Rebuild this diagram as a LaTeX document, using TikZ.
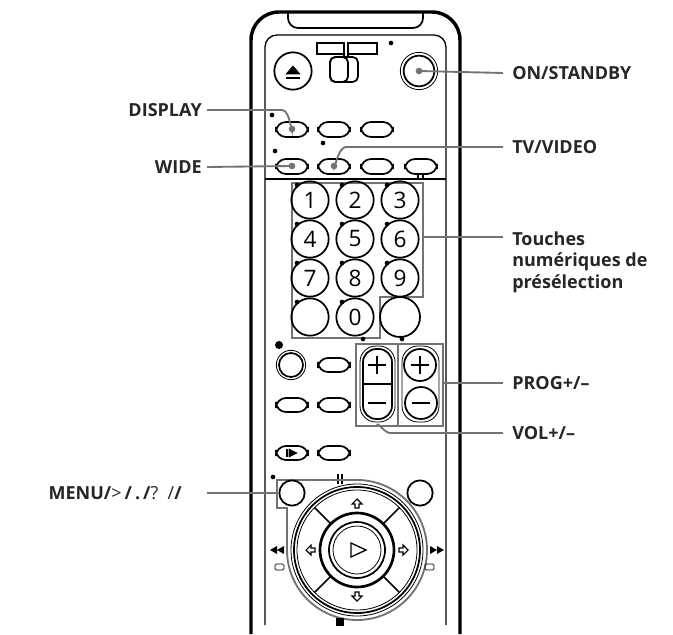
\documentclass[tikz,border=0pt]{standalone}
\usepackage{fontspec}
\setmainfont{Open Sans}
\begin{document}
\begin{tikzpicture}[x=0.75pt,y=-0.75pt,
  lead/.style={draw=black!55,line width=1.4pt},
  blk/.style={draw=black,line width=1.3pt},
  lbl/.style={font=\bfseries\fontsize{13.5}{16}\selectfont,text=black!85,inner sep=0pt},
  ov/.style={blk,rounded corners=7.5pt},
  num/.style={blk,circle,minimum size=28pt,inner sep=0pt,font=\fontsize{17}{17}\selectfont},
  dot/.style={fill=black,circle,inner sep=0pt,minimum size=3.5pt},
  gdot/.style={fill=black!55,circle,inner sep=0pt,minimum size=5pt}]
\useasboundingbox (0,0) rectangle (673,634);
% body
\draw[line width=2.6pt] (251,634) -- (251,40) arc (180:270:28) -- (432,12) arc (270:360:28) -- (460,634);
\draw[line width=1.3pt] (288,12) -- (288,18) arc (180:90:10) -- (413,28) arc (90:0:10) -- (423,12);
\draw[line width=1pt] (265,625) -- (265,47) arc (180:270:12) -- (434,35) arc (270:360:12) -- (446,625);
% top controls
\node[blk,circle,minimum size=28pt,inner sep=0pt] (eject) at (293,71) {};
\draw[fill=black] (286,74) -- (300,74) -- (293,66) -- cycle; \draw[line width=1pt] (286,78) -- (300,78);
\draw[line width=1pt] (317,43) rectangle (344,54) (348,43) rectangle (377,54) (344,54) -- (344,57) (348,54)--(348,57);
\draw[blk,rounded corners=4pt] (330,57) rectangle (358,82);
\draw[blk,rounded corners=4pt] (330,57) rectangle (348,82);
\node[dot] at (391,43) {};
\node[draw,circle,line width=0.6pt,minimum size=28pt,inner sep=0pt] (onring) at (419,71) {};
\node[blk,circle,minimum size=23pt,inner sep=0pt] (on) at (419,71) {};
\foreach \x/\n in {292/a,334/b,377/c}{\draw[ov] (\x-16,122) rectangle (\x+16,137); \coordinate (r1\n) at (\x,129);}
\foreach \x/\n in {292/a,334/b,377/c,421/d}{\draw[ov] (\x-16,159) rectangle (\x+16,174); \coordinate (r2\n) at (\x,166);}
\node[dot] at (272,115) {}; \node[dot] at (275,151) {}; \node[dot] at (323,143) {};
\draw[line width=1pt] (265,179) -- (446,179) (418,174)--(418,179) (423,174)--(423,179);
% number pad
\draw[lead] (292,183) -- (423,183) -- (423,297) -- (380,297) -- (380,338) -- (292,338) -- cycle;
\foreach \t [count=\i from 0] in {1,2,3,4,5,6,7,8,9}{
  \pgfmathtruncatemacro\c{mod(\i,3)}\pgfmathtruncatemacro\r{div(\i,3)}
  \node[num] (n\t) at (310+45*\c,200+39*\r) {\t};
  \node[dot] at (297+45*\c,185+39*\r) {};}
\node[num] (nb) at (310,317) {}; \node[num] (n0) at (355,317) {0}; \node[num,minimum size=30pt] (nc) at (400,317) {};
\node[dot] at (297,302) {}; \node[dot] at (342,302) {};
% record row
\node[dot,minimum size=6pt] at (279,345) {};
\node[draw,circle,line width=0.6pt,minimum size=22pt,inner sep=0pt] at (291,365) {};
\node[blk,circle,minimum size=18pt,inner sep=0pt] (rec) at (291,365) {};
\draw[ov] (318,358) rectangle (350,372);
\draw[ov] (276,398) rectangle (308,412); \draw[ov] (318,398) rectangle (350,412);
% VOL / PROG
\draw[lead] (356,344) rectangle (398,426); \draw[lead] (398,344) rectangle (443,426);
\node[dot] at (363,339) {}; \node[dot] at (402,339) {};
\draw[line width=0.6pt,rounded corners=12pt] (360,346) rectangle (395,422);
\draw[blk,rounded corners=10pt] (363,349) rectangle (392,419);
\draw[blk] (363,384) -- (392,384);
\draw[line width=1.3pt] (377,356)--(377,374) (368,365)--(386,365) (368,403)--(386,403);
\draw[line width=0.6pt,rounded corners=12pt] (402,346) rectangle (439,422);
\node[blk,circle,minimum size=24pt,inner sep=0pt] (pp) at (420,365) {};
\node[blk,circle,minimum size=24pt,inner sep=0pt] (pm) at (421,403) {};
\draw[line width=1.3pt] (420,356)--(420,374) (411,365)--(429,365) (412,403)--(430,403);
% slow row
\draw[ov] (276,446) rectangle (308,460); \draw[ov] (318,446) rectangle (350,460);
\draw[line width=1.2pt] (287,449)--(287,457); \draw[fill=black] (289,449)--(297,453)--(289,457)--cycle;
% jog
\node[dot] at (273,477) {};
\draw[line width=1.4pt] (338,474)--(338,484) (342,474)--(342,484);
\draw[lead] (277,480) -- (357,480) arc (270:540:70) -- (287,508) -- (277,508) -- cycle;
\node[blk,circle,minimum size=19pt,inner sep=0pt] (menu) at (292,493) {};
\node[blk,circle,minimum size=19pt,inner sep=0pt] (rb) at (420,493) {};
\draw[line width=0.6pt] (357,550) circle (66);
\draw[blk] (357,550) circle (63);
\draw[line width=0.6pt] (357,550) circle (60);
\draw[line width=2pt] (357,550) circle (37);
\foreach \a in {45,135,225,315}{\draw[line width=1.3pt] (357,550) ++(\a:37) -- ++(\a:23);}
\draw[line width=1.3pt] (357,550) circle (28);
\draw[line width=0.6pt] (357,550) circle (24);
\draw[line width=1pt] (351,543) -- (366,550) -- (351,557) -- cycle;
\draw[line width=0.8pt] (357,499)--(362,504)--(359,504)--(359,508)--(355,508)--(355,504)--(352,504)--cycle;
\draw[line width=0.8pt] (357,601)--(362,596)--(359,596)--(359,592)--(355,592)--(355,596)--(352,596)--cycle;
\draw[line width=0.8pt] (306,550)--(311,545)--(311,548)--(315,548)--(315,552)--(311,552)--(311,555)--cycle;
\draw[line width=0.8pt] (408,550)--(403,545)--(403,548)--(399,548)--(399,552)--(403,552)--(403,555)--cycle;
\fill (270,550)--(277,546)--(277,554)--cycle (277,550)--(284,546)--(284,554)--cycle;
\fill (444,550)--(437,546)--(437,554)--cycle (437,550)--(430,546)--(430,554)--cycle;
\draw[line width=0.5pt,rounded corners=1pt] (275,564) rectangle (284,570); \draw[line width=0.5pt,rounded corners=1pt] (425,564) rectangle (434,570);
\fill (336,618) rectangle (344,626);
% labels
\node[lbl,anchor=west] (tON) at (512,73) {ON/STANDBY};
\draw[lead] (on.center) -- (503,73); \node[gdot] at (on.center) {};
\node[lbl,anchor=east] (tDI) at (202,110) {DISPLAY};
\draw[lead] (207,110) -- (282,110) to[out=0,in=270] (r1a); \node[gdot] at (r1a) {};
\node[lbl,anchor=east] (tWI) at (202,167) {WIDE};
\draw[lead] (207,167) -- (r2a); \node[gdot] at (r2a) {};
\node[lbl,anchor=west] (tTV) at (512,147) {TV/VIDEO};
\draw[lead] (r2b) to[out=270,in=180] (346,147) -- (503,147); \node[gdot] at (r2b) {};
\node[lbl,anchor=west,align=left] (tTO) at (512,262) {Touches\\num\'eriques de\\pr\'es\'election};
\draw[lead] (423,237) -- (503,237);
\node[lbl,anchor=west] (tPR) at (512,383) {PROG+/--};
\draw[lead] (443,383) -- (503,383);
\node[lbl,anchor=west] (tVO) at (512,433) {VOL+/--};
\draw[lead] (377,426) to[out=90,in=180] (390,433) -- (503,433);
\node[lbl,anchor=east] (tME) at (182,493) {MENU/{\mdseries >}\,/\,.\,/{\mdseries ?}\ \ {\mdseries /}/};
\draw[lead] (207,493) -- (277,493);
\end{tikzpicture}
\end{document}
